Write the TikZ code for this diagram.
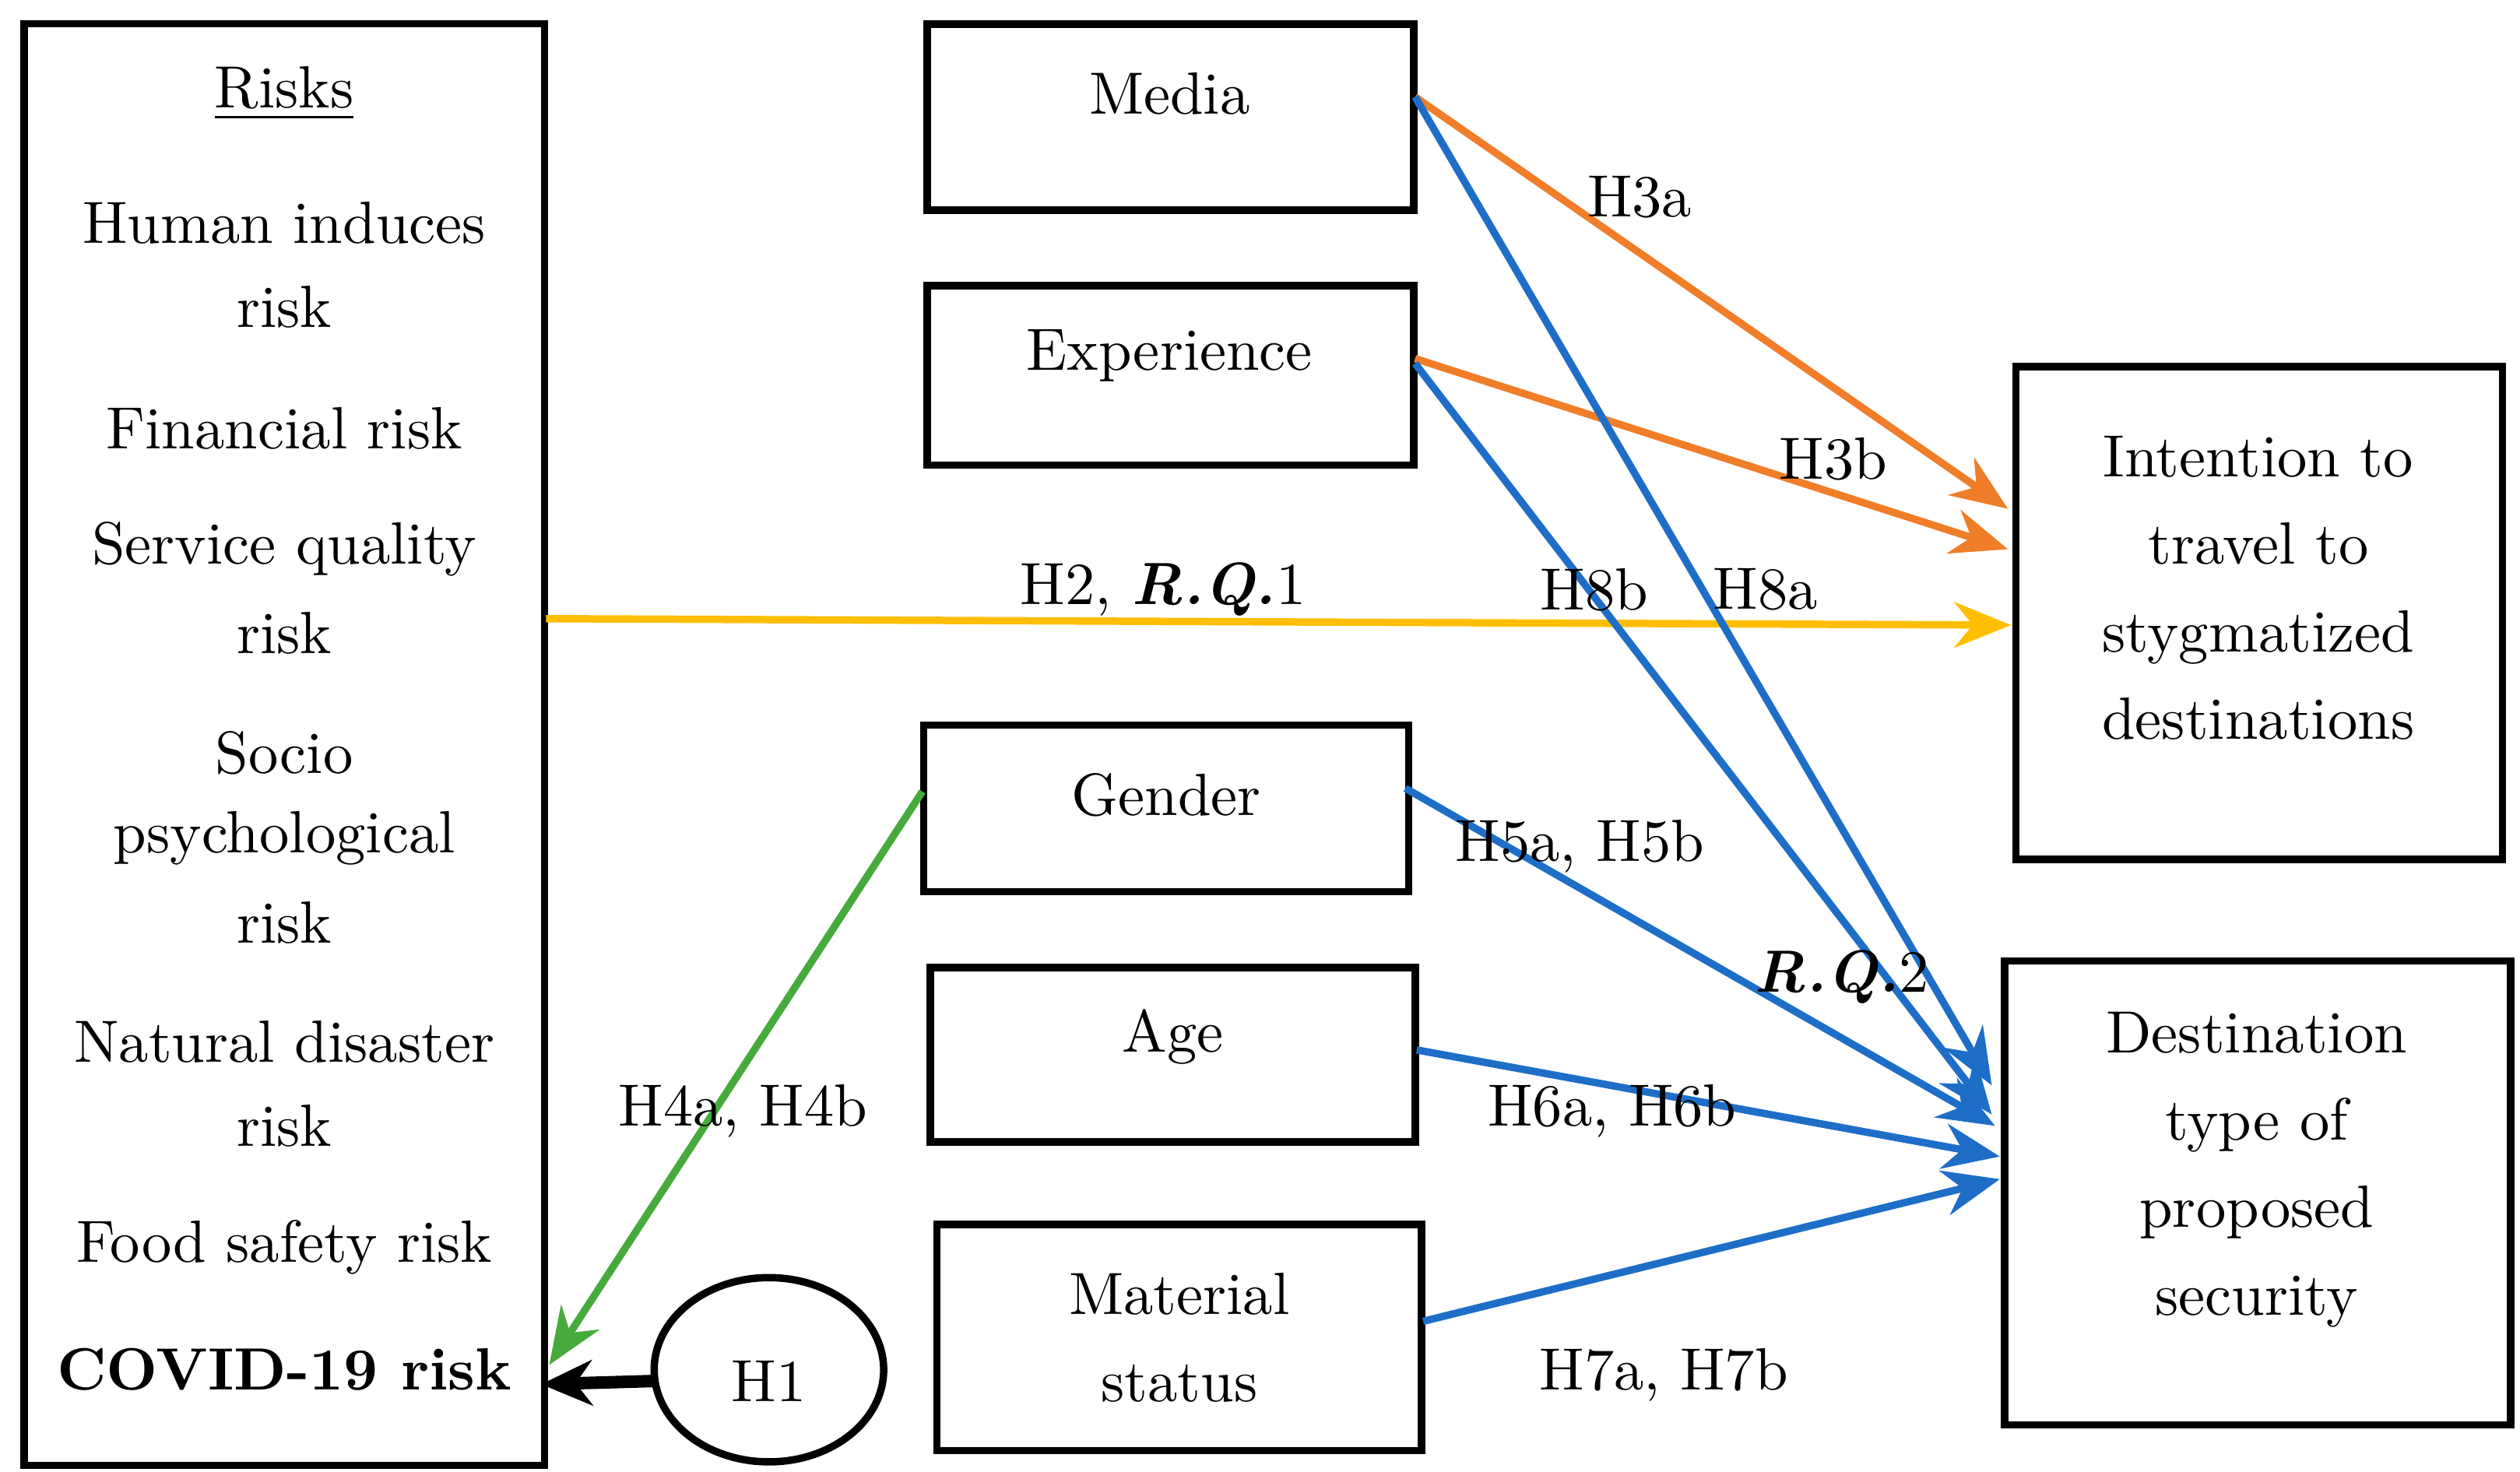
\documentclass[tikz,border=0pt]{standalone}
\usetikzlibrary{arrows.meta,calc,shapes.geometric}
\begin{document}
\begin{tikzpicture}[x=0.01cm,y=-0.01cm,
 box/.style={draw,line width=1.3pt,inner sep=0pt},
 t/.style={font=\fontsize{10.5}{13}\selectfont,inner sep=0pt},
 ml/.style={t,align=center,font=\fontsize{10.5}{15.4}\selectfont},
 lab/.style={font=\fontsize{10.5}{13}\selectfont,inner sep=0pt},
 arr/.style={line width=1.3pt,-{Stealth[length=10pt,width=8pt]}},
 org/.style={arr,draw={rgb,255:red,240;green,125;blue,40}},
 blu/.style={arr,draw={rgb,255:red,30;green,110;blue,200}}]
\useasboundingbox (0,0) rectangle (1560,911);
\node[box,minimum width=3.22cm,minimum height=8.92cm] (risks) at (176,461) {};
\node[t] at (176,58) {\underline{Risks}};
\node[t] at (176,138) {Human induces};
\node[t] at (176,190) {risk};
\node[t] at (176,265) {Financial risk};
\node[t] at (176,340) {Service quality};
\node[t] at (176,392) {risk};
\node[t] at (176,466) {Socio};
\node[t] at (176,519) {psychological};
\node[t] at (176,571) {risk};
\node[t] at (176,645) {Natural disaster};
\node[t] at (176,697) {risk};
\node[t] at (176,772) {Food safety risk};
\node[t] (covid) at (176,848) {\textbf{COVID-19 risk}};

\node[box,minimum width=3.01cm,minimum height=1.15cm] (mediab) at (724.5,72.5) {};
\node[t] (media) at (724,58) {Media};
\node[box,minimum width=3.01cm,minimum height=1.11cm] (expb) at (724.5,232.5) {};
\node[t] (exp) at (724,220) {Experience};
\node[box,minimum width=3.00cm,minimum height=1.03cm] (genderb) at (722,500.5) {};
\node[t] (gender) at (722,492) {Gender};
\node[box,minimum width=3.00cm,minimum height=1.08cm] (ageb) at (726,653) {};
\node[t] (age) at (726,642) {Age};
\node[box,minimum width=3.00cm,minimum height=1.40cm] (matb) at (730,828) {};
\node[ml] (mat) at (730,828) {Material\\status};
\node[box,minimum width=3.01cm,minimum height=3.05cm] (intb) at (1398.5,379.5) {};
\node[ml] (int) at (1398,364) {Intention to\\travel to\\stygmatized\\destinations};
\node[box,minimum width=3.13cm,minimum height=2.87cm] (destb) at (1397.5,738.5) {};
\node[ml] (dest) at (1397,724) {Destination\\type of\\proposed\\security};
\node[box,ellipse,inner sep=0pt,minimum width=1.42cm,minimum height=1.14cm] (h1s) at (476,848) {};
\node[t] (h1) at (476,855) {H1};

\coordinate (rk) at (338,383);
\coordinate (covR) at (335,857);
\coordinate (covG) at (340,845);
\coordinate (mR) at (876,60); \coordinate (eR) at (876,222); \coordinate (eR2) at (876,225);
\coordinate (gR) at (870,488); \coordinate (gL) at (571,490);
\coordinate (aR) at (877,650); \coordinate (mtR) at (881,818);
\coordinate (i1) at (1243,315); \coordinate (i2) at (1243,340); \coordinate (i3) at (1245,387);
\coordinate (d1) at (1233,672); \coordinate (d2) at (1233,690); \coordinate (d3) at (1235,697);
\coordinate (d4) at (1238,716); \coordinate (d5) at (1238,730); \coordinate (h1L) at (404,855);

\draw[org] (mR) -- (i1);
\draw[org] (eR) -- (i2);
\draw[arr,draw={rgb,255:red,255;green,190;blue,0}] (rk) -- (i3);
\draw[blu] (mR) -- (d1);
\draw[blu] (eR2) -- (d2);
\draw[blu] (gR) -- (d3);
\draw[blu] (aR) -- (d4);
\draw[blu] (mtR) -- (d5);
\draw[arr,draw={rgb,255:red,70;green,170;blue,60}] (gL) -- (covG);
\draw[line width=2.2pt,-{Stealth[length=9pt,width=8pt]}] (h1L) -- (covR);

\node[lab] at (1015,122) {H3a};
\node[lab] at (1135,284) {H3b};
\node[lab] at (720,365) {H2, \textbf{\textit{R.Q.}}1};
\node[lab] at (987,365) {H8b};
\node[lab] at (1093,365) {H8a};
\node[lab] at (978,524) {H5a, H5b};
\node[lab] at (1140,605) {\textbf{\textit{R.Q.}}2};
\node[lab] at (998,688) {H6a, H6b};
\node[lab] at (1030,851) {H7a, H7b};
\node[lab] at (460,688) {H4a,\ H4b};
\end{tikzpicture}
\end{document}
